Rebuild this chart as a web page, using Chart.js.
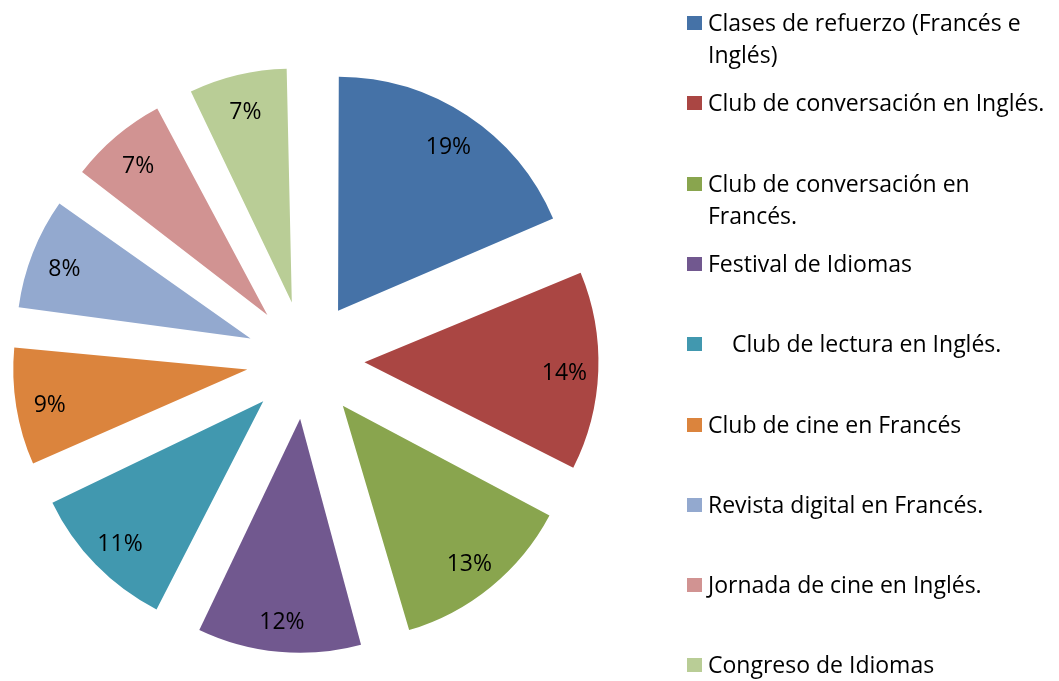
<!DOCTYPE html>
<html>
<head>
<meta charset="utf-8">
<script src="https://cdn.jsdelivr.net/npm/chart.js@4/dist/chart.umd.min.js"></script>
<style>
  html, body { margin: 0; padding: 0; background: #fff; }
  #wrap { position: relative; width: 1059px; height: 681px; overflow: hidden; }
  #c { position: absolute; left: 0; top: 0; }
  .lg { position: absolute; font-family: "Open Sans", Lato, sans-serif; font-size: 23px; color: #000; white-space: nowrap; }
  .sq { position: absolute; width: 15px; height: 14px; }
</style>
</head>
<body>
<div id="wrap">
  <canvas id="c" width="1059" height="681"></canvas>
</div>
<script>
// ---- data ----
const categories = [
  "Clases de refuerzo (Francés e Inglés)",
  "Club de conversación en Inglés.",
  "Club de conversación en Francés.",
  "Festival de Idiomas",
  "Club de lectura en Inglés.",
  "Club de cine en Francés",
  "Revista digital en Francés.",
  "Jornada de cine en Inglés.",
  "Congreso de Idiomas"
];
const values = [18.6, 14.0, 13.0, 11.7, 10.8, 8.7, 8.3, 7.45, 7.45];
const colors = ["#4572A7", "#AA4643", "#89A54E", "#71588F", "#4198AF", "#DB843D", "#93A9CF", "#D19392", "#B9CD96"];
// legend text as shown (with wrapping)
const legendLines = [
  ["Clases de refuerzo (Francés e", "Inglés)"],
  ["Club de conversación en Inglés."],
  ["Club de conversación en", "Francés."],
  ["Festival de Idiomas"],
  ["Club de lectura en Inglés."],
  ["Club de cine en Francés"],
  ["Revista digital en Francés."],
  ["Jornada de cine en Inglés."],
  ["Congreso de Idiomas"]
];

// ---- layout constants ----
const R = 234;          // pie radius
const EXPLODE = 59;     // explosion distance in px
const LABEL_FRAC = 0.855;

// keep exploded slices at the same outer radius
const radiusFix = {
  id: 'radiusFix',
  beforeDatasetsDraw(chart) {
    const meta = chart.getDatasetMeta(0);
    meta.data.forEach(arc => {
      const fix = 1 - Math.sin(Math.min(Math.PI, arc.circumference));
      arc.outerRadius = R - EXPLODE * fix;
    });
  }
};

const pctLabels = {
  id: 'pctLabels',
  afterDatasetsDraw(chart) {
    const ctx = chart.ctx;
    const meta = chart.getDatasetMeta(0);
    const total = values.reduce((a, b) => a + b, 0);
    ctx.save();
    ctx.font = '23px "Open Sans", Lato, sans-serif';
    ctx.fillStyle = '#000';
    ctx.textAlign = 'center';
    ctx.textBaseline = 'middle';
    meta.data.forEach((arc, i) => {
      const mid = (arc.startAngle + arc.endAngle) / 2;
      const d = EXPLODE + LABEL_FRAC * R;
      const x = arc.x + Math.cos(mid) * d;
      const y = arc.y + Math.sin(mid) * d + 4;
      ctx.fillText(Math.round(values[i] / total * 100) + '%', x, y);
    });
    ctx.restore();
  }
};

new Chart(document.getElementById('c'), {
  type: 'pie',
  data: {
    labels: categories,
    datasets: [{
      data: values,
      backgroundColor: colors,
      borderWidth: 0,
      offset: EXPLODE * 4,
      hoverOffset: EXPLODE * 4
    }]
  },
  options: {
    responsive: false,
    animation: false,
    radius: R,
    layout: { padding: { left: 0, right: 448, top: 39, bottom: 0 } },
    events: [],
    plugins: {
      legend: { display: false },
      tooltip: { enabled: false }
    }
  },
  plugins: [radiusFix, pctLabels]
});

// ---- HTML legend ----
const wrap = document.getElementById('wrap');
const squareY = [23, 103, 184, 264, 344, 425, 505, 585, 665];
const textX = [708, 708, 708, 708, 732, 708, 708, 708, 708];
const LINE = 32;
legendLines.forEach((lines, i) => {
  const sq = document.createElement('div');
  sq.className = 'sq';
  sq.style.left = '687px';
  sq.style.top = (squareY[i] - 7) + 'px';
  sq.style.background = colors[i];
  wrap.appendChild(sq);
  lines.forEach((t, j) => {
    const d = document.createElement('div');
    d.className = 'lg';
    d.style.left = textX[i] + 'px';
    d.style.top = (squareY[i] - 16 + j * LINE) + 'px';
    d.style.lineHeight = '30px';
    d.textContent = t;
    wrap.appendChild(d);
  });
});
</script>
</body>
</html>
